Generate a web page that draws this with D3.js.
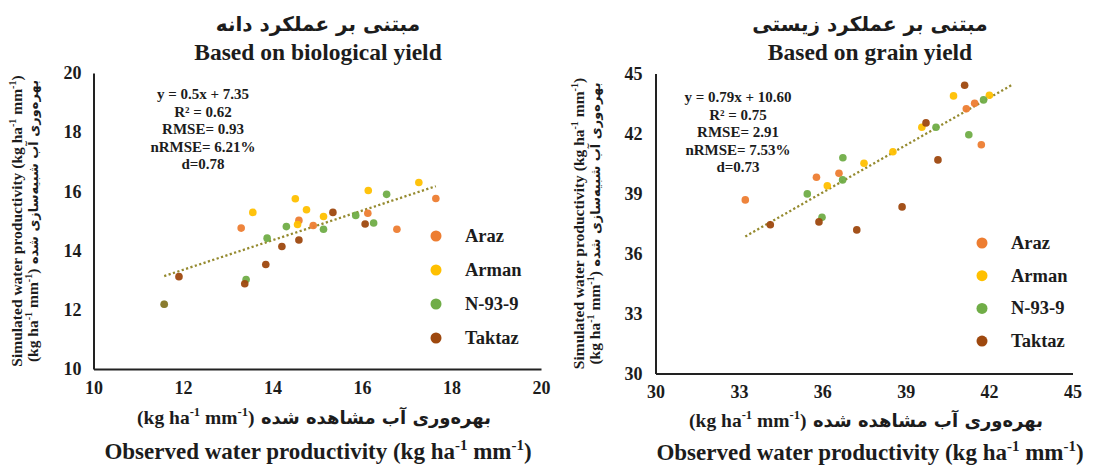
<!DOCTYPE html>
<html>
<head>
<meta charset="utf-8">
<script src="https://cdn.jsdelivr.net/npm/d3@7"></script>
<style>
  body { margin: 0; background: #fff; }
  text { font-family: "Liberation Serif", "Times New Roman", serif; font-weight: bold; fill: #1c1c1c; }
  .fa { font-family: "DejaVu Sans", sans-serif; }
</style>
</head>
<body>
<div id="paper"></div>
<script>
// series
const seriesNames = ["Araz", "Arman", "N-93-9", "Taktaz"];
const seriesColors = ["#ED7D31", "#FFC000", "#70AD47", "#9E480E"];

// left panel : [observed, simulated]
const bioAraz   = [[13.30,14.76],[14.59,15.02],[14.91,14.85],[16.13,15.26],[16.78,14.72],[17.65,15.76]];
const bioArman  = [[13.56,15.29],[14.51,15.75],[14.56,14.88],[14.76,15.38],[15.14,15.15],[16.14,16.03],[17.27,16.30]];
const bioN93    = [[11.58,12.19],[13.41,13.02],[13.88,14.42],[14.31,14.81],[15.14,14.72],[15.86,15.19],[16.26,14.93],[16.55,15.90]];
const bioTaktaz = [[11.58,12.19],[11.91,13.12],[13.38,12.88],[13.85,13.53],[14.21,14.14],[14.59,14.36],[15.35,15.29],[16.07,14.90]];

// right panel : [observed, simulated]
const grainAraz   = [[33.23,38.68],[35.79,39.81],[36.60,40.01],[41.18,43.24],[41.48,43.51],[41.72,41.44]];
const grainArman  = [[36.18,39.39],[37.50,40.51],[38.54,41.09],[39.58,42.31],[40.72,43.88],[42.01,43.91]];
const grainN93    = [[35.46,38.98],[35.99,37.81],[36.73,39.68],[36.74,40.79],[40.09,42.31],[41.27,41.94],[41.80,43.68]];
const grainTaktaz = [[34.13,37.44],[35.88,37.58],[37.24,37.18],[38.87,38.33],[39.73,42.53],[40.16,40.68],[41.12,44.41]];

// trend lines (slope, intercept, x start, x end)
const bioFit = [0.5, 7.35, 11.58, 17.65];
const grainFit = [0.79, 10.60, 33.23, 42.8];

const bioTicks = [10, 12, 14, 16, 18, 20];
const grainTicks = [30, 33, 36, 39, 42, 45];

const bioStats = ["y = 0.5x + 7.35", "R² = 0.62", "RMSE= 0.93", "nRMSE= 6.21%", "d=0.78"];
const grainStats = ["y = 0.79x + 10.60", "R² = 0.75", "RMSE= 2.91", "nRMSE= 7.53%", "d=0.73"];

const titlesFa = ["مبتنی بر عملکرد دانه", "مبتنی بر عملکرد زیستی"];
const titlesEn = ["Based on biological yield", "Based on grain yield"];
const obsFa = "بهره‌وری آب مشاهده شده";
const simFa = "بهره‌وری آب شبیه‌سازی شده";

const svg = d3.select("#paper")
  .append("svg")
  .attr("width", 1099)
  .attr("height", 465);

function unit(t, fs) {
  t.append("tspan").text("(kg ha");
  t.append("tspan").attr("dy", -fs*0.4).attr("font-size", fs*0.65).text("-1");
  t.append("tspan").attr("dy", fs*0.4).text(" mm");
  t.append("tspan").attr("dy", -fs*0.4).attr("font-size", fs*0.65).text("-1");
  t.append("tspan").attr("dy", fs*0.4).text(")");
}

function drawPanel(p) {
  const x = d3.scaleLinear().domain(p.domain).range([p.left, p.right]);
  const y = d3.scaleLinear().domain(p.domain).range([p.bottom, p.top]);
  const g = svg.append("g");

  const xa = g.append("g")
    .attr("transform", `translate(0,${p.bottom})`)
    .call(d3.axisBottom(x).tickValues(p.ticks).tickSize(0).tickPadding(12).tickFormat(d3.format("d")));
  const ya = g.append("g")
    .attr("transform", `translate(${p.left},0)`)
    .call(d3.axisLeft(y).tickValues(p.ticks).tickSize(0).tickPadding(p.ypad).tickFormat(d3.format("d")));
  [xa, ya].forEach(a => {
    a.select(".domain").attr("stroke", "#222").attr("stroke-width", 2);
    a.selectAll("text").attr("font-size", 18).attr("font-family", "Liberation Serif").attr("font-weight", "bold").attr("fill", "#1c1c1c");
  });

  // trend line
  const fit = p.fit;
  g.append("path")
    .attr("d", d3.line()([[x(fit[2]), y(fit[0]*fit[2]+fit[1])], [x(fit[3]), y(fit[0]*fit[3]+fit[1])]]))
    .attr("stroke", "#958a2f")
    .attr("stroke-width", 2.3)
    .attr("stroke-dasharray", "2.2,2.4")
    .attr("fill", "none");

  // points (a point sitting on an earlier one is drawn half see-through)
  p.series.forEach((s, i) => {
    const earlier = p.series.slice(0, i).flat();
    g.selectAll(".pt" + i)
      .data(s)
      .join("circle")
      .attr("class", "pt" + i)
      .attr("cx", d => x(d[0]))
      .attr("cy", d => y(d[1]))
      .attr("r", 3.8)
      .attr("fill", seriesColors[i])
      .attr("fill-opacity", d => earlier.some(e => e[0] == d[0] && e[1] == d[1]) ? 0.5 : 0.95);
  });

  // stats
  g.selectAll(".stat")
    .data(p.stats)
    .join("text")
    .attr("x", p.statX)
    .attr("y", (d, i) => p.statY + i*17.5)
    .attr("text-anchor", "middle")
    .attr("font-size", 15)
    .text(d => d);

  // legend
  seriesNames.forEach((n, i) => {
    g.append("circle")
      .attr("cx", p.legX)
      .attr("cy", p.legY + i*p.legStep)
      .attr("r", 5.5)
      .attr("fill", seriesColors[i]);
    g.append("text")
      .attr("x", p.legX + 29)
      .attr("y", p.legY + i*p.legStep + 6)
      .attr("font-size", 18.5)
      .text(n);
  });

  // titles
  g.append("text").attr("class", "fa")
    .attr("x", p.cx).attr("y", 31)
    .attr("text-anchor", "middle").attr("font-size", 20)
    .text(p.titleFa);
  g.append("text")
    .attr("x", p.cx).attr("y", 60)
    .attr("text-anchor", "middle").attr("font-size", 23.5)
    .text(p.titleEn);

  // x title
  const t1 = g.append("text")
    .attr("x", p.cx - 4).attr("y", p.xt1)
    .attr("text-anchor", "middle").attr("font-size", 19.5);
  unit(t1, 19.5);
  t1.append("tspan").attr("class", "fa").attr("font-size", 18).text(" " + obsFa);
  const t2 = g.append("text")
    .attr("x", p.cx).attr("y", p.xt2)
    .attr("text-anchor", "middle").attr("font-size", 23)
    .text("Observed water productivity ");
  unit(t2, 23);

  // y title
  const ymid = (p.top + p.bottom) / 2;
  const y1 = g.append("text")
    .attr("transform", `translate(${p.yt1},${ymid}) rotate(-90)`)
    .attr("text-anchor", "middle").attr("font-size", 15.5)
    .text("Simulated water productivity ");
  unit(y1, 15.5);
  const y2 = g.append("text")
    .attr("transform", `translate(${p.yt1 + 16},${ymid}) rotate(-90)`)
    .attr("text-anchor", "middle").attr("font-size", 15.5);
  unit(y2, 15.5);
  y2.append("tspan").attr("class", "fa").attr("font-size", 13).text(" " + simFa);
}

drawPanel({
  domain: [10, 20], ticks: bioTicks, left: 93.5, right: 541, top: 73, bottom: 369, ypad: 12,
  series: [bioAraz, bioArman, bioN93, bioTaktaz], fit: bioFit, stats: bioStats,
  statX: 203, statY: 99, legX: 436, legY: 236, legStep: 34,
  cx: 318, titleFa: titlesFa[0], titleEn: titlesEn[0], xt1: 424, xt2: 459, yt1: 22
});

drawPanel({
  domain: [30, 45], ticks: grainTicks, left: 655.5, right: 1072.5, top: 73.5, bottom: 373.5, ypad: 13,
  series: [grainAraz, grainArman, grainN93, grainTaktaz], fit: grainFit, stats: grainStats,
  statX: 738, statY: 102, legX: 982, legY: 243, legStep: 32.7,
  cx: 870, titleFa: titlesFa[1], titleEn: titlesEn[1], xt1: 427, xt2: 460, yt1: 584
});
</script>
</body>
</html>
